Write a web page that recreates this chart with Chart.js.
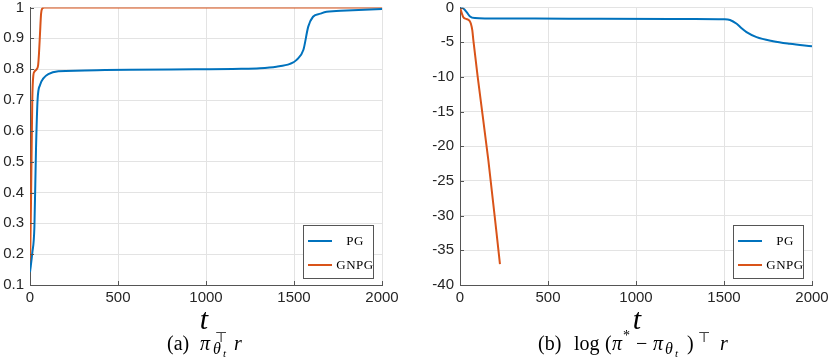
<!DOCTYPE html>
<html>
<head>
<meta charset="utf-8">
<script src="https://cdn.jsdelivr.net/npm/chart.js@4"></script>
<style>
  html, body { margin: 0; padding: 0; background: #fff; }
  body { width: 830px; height: 360px; position: relative; overflow: hidden; }
  .box { position: absolute; }
  .tvar { position: absolute; width: 60px; text-align: center; font: italic 30px "Liberation Serif", serif; line-height: 1; color: #000; }
  .cap { position: absolute; left: 0; top: 0; width: 830px; height: 360px; font-family: "Liberation Serif", serif; color: #000; }
  .cap span { position: absolute; white-space: nowrap; line-height: 1; }
  .cap .n { font-size: 20px; }
  .cap .i { font-size: 20px; font-style: italic; }
  .cap .s { font-size: 14px; }
  .cap .si { font-size: 16px; font-style: italic; }
  .cap .ss { font-size: 11px; font-style: italic; }
  .leg { position: absolute; width: 69px; height: 52px; border: 1px solid #555; background: #fff; font: 13px "Liberation Serif", serif; color: #000; }
  .leg .row { position: absolute; left: 4px; height: 14px; }
  .leg .sw { position: absolute; left: 0; top: 6px; width: 24px; height: 2px; }
  .leg .lb { position: absolute; left: 26px; width: 42px; top: -1px; text-align: center; letter-spacing: 0.5px; }
</style>
</head>
<body>
<div class="box" style="left:0;top:-10px;width:415px;height:320px"><canvas id="c1"></canvas></div>
<div class="box" style="left:430px;top:-10px;width:415px;height:320px"><canvas id="c2"></canvas></div>

<div class="leg" style="left:303px;top:225px">
  <div class="row" style="top:8px"><div class="sw" style="background:#0072BD"></div><div class="lb">PG</div></div>
  <div class="row" style="top:32px"><div class="sw" style="background:#D95319"></div><div class="lb">GNPG</div></div>
</div>
<div class="leg" style="left:733px;top:225px">
  <div class="row" style="top:8px"><div class="sw" style="background:#0072BD"></div><div class="lb">PG</div></div>
  <div class="row" style="top:32px"><div class="sw" style="background:#D95319"></div><div class="lb">GNPG</div></div>
</div>

<div class="tvar" style="left:174px;top:304px">t</div>
<div class="tvar" style="left:607px;top:304px">t</div>

<!-- captions, baseline around y=350 -->
<div class="cap">
  <span class="n"  style="left:167px;top:333px">(a)</span>
  <span class="i"  style="left:200px;top:333px">π</span>
  <span class="s"  style="left:215px;top:331px">⊤</span>
  <span class="si" style="left:213px;top:341px">θ</span>
  <span class="ss" style="left:223px;top:348px">t</span>
  <span class="i"  style="left:234px;top:333px">r</span>

  <span class="n"  style="left:538px;top:333px">(b)</span>
  <span class="n"  style="left:574px;top:333px">log</span>
  <span class="n"  style="left:605px;top:333px">(</span>
  <span class="i"  style="left:612px;top:333px">π</span>
  <span class="s"  style="left:623px;top:329px">*</span>
  <span class="n"  style="left:636px;top:333px">−</span>
  <span class="i"  style="left:653px;top:333px">π</span>
  <span class="si" style="left:665px;top:341px">θ</span>
  <span class="ss" style="left:675px;top:348px">t</span>
  <span class="n"  style="left:687px;top:333px">)</span>
  <span class="s"  style="left:698px;top:331px">⊤</span>
  <span class="i"  style="left:720px;top:333px">r</span>
</div>

<script>
// (a) expected reward
const tPG_a = [0, 13, 25, 34, 43, 57, 76, 104, 161, 426, 800, 1200, 1306, 1400, 1477, 1515, 1553, 1581, 1608, 1650, 1685, 1800, 2000];
const pg_a  = [0.142, 0.204, 0.288, 0.538, 0.70, 0.749, 0.77, 0.784, 0.793, 0.797, 0.799, 0.801, 0.803, 0.808, 0.817, 0.83, 0.862, 0.938, 0.97, 0.98, 0.986, 0.99, 0.995];
const tGN_a = [0, 6, 13, 19, 25, 38, 46, 51, 57, 63, 70, 80, 2000];
const gn_a  = [0.142, 0.38, 0.70, 0.78, 0.792, 0.80, 0.812, 0.85, 0.917, 0.98, 0.997, 1, 1];

// (b) log sub-optimality
const tPG_b = [0, 19, 38, 57, 85, 150, 426, 800, 1200, 1306, 1500, 1534, 1572, 1600, 1628, 1685, 1779, 1874, 2000];
const pg_b  = [0, -0.15, -0.67, -1.3, -1.53, -1.58, -1.6, -1.62, -1.65, -1.66, -1.7, -1.8, -2.35, -3.0, -3.55, -4.27, -4.85, -5.22, -5.6];
const tGN_b = [0, 10, 19, 35, 47, 55, 62, 70, 76, 100, 161, 208, 227];
const gn_b  = [0, -0.8, -1.4, -1.65, -1.77, -1.95, -2.35, -3.3, -4.75, -9.9, -22, -32.6, -37];

const xTicks = [0, 500, 1000, 1500, 2000];
const labels = ['PG', 'GNPG'];
const blue = '#0072BD', orange = '#D95319';

function pts(ts, vs) {
  return ts.map((t, i) => ({ x: t, y: vs[i] }));
}

// small inward tick marks like matlab
const inTicks = {
  id: 'inTicks',
  afterDraw(chart) {
    const ctx = chart.ctx, a = chart.chartArea;
    const xs = chart.scales.x, ys = chart.scales.y;
    ctx.save();
    ctx.strokeStyle = '#555';
    ctx.lineWidth = 1;
    ctx.beginPath();
    xs.ticks.forEach(t => {
      const p = Math.round(xs.getPixelForValue(t.value)) + 0.5;
      ctx.moveTo(p, a.bottom); ctx.lineTo(p, a.bottom - 4);
    });
    ys.ticks.forEach(t => {
      const p = Math.round(ys.getPixelForValue(t.value)) + 0.5;
      ctx.moveTo(a.left, p); ctx.lineTo(a.left + 4, p);
    });
    ctx.stroke();
    ctx.restore();
  }
};

function make(id, ds, ymin, ymax, ystep) {
  const font = { family: '"Liberation Sans", Arial, sans-serif', size: 15 };
  return new Chart(document.getElementById(id), {
    type: 'line',
    data: {
      datasets: ds.map(d => ({
        label: d.label,
        data: d.data,
        borderColor: d.color,
        backgroundColor: d.color,
        borderWidth: 2,
        pointRadius: 0,
        cubicInterpolationMode: 'monotone',
        fill: false
      }))
    },
    options: {
      responsive: true,
      maintainAspectRatio: false,
      animation: false,
      layout: { padding: { top: 17.5, right: 33, bottom: 0, left: 0 } },
      plugins: { legend: { display: false }, tooltip: { enabled: false } },
      scales: {
        x: {
          type: 'linear', min: 0, max: 2000,
          afterBuildTicks: s => { s.ticks = xTicks.map(v => ({ value: v })); },
          afterFit: s => { s.height = 25; },
          ticks: { font, color: '#262626', padding: 4, maxRotation: 0, callback: v => String(v) },
          grid: { color: '#e3e3e3', drawTicks: false },
          border: { color: '#555', width: 1 }
        },
        y: {
          min: ymin, max: ymax,
          afterFit: s => { s.width = 30; },
          ticks: { stepSize: ystep, font, color: '#262626', padding: 6,
                   callback: v => String(Math.round(v * 10) / 10) },
          grid: { color: '#e3e3e3', drawTicks: false },
          border: { color: '#555', width: 1 }
        }
      }
    },
    plugins: [inTicks]
  });
}

make('c1', [
  { label: labels[0], data: pts(tPG_a, pg_a), color: blue },
  { label: labels[1], data: pts(tGN_a, gn_a), color: orange }
], 0.1, 1, 0.1);

make('c2', [
  { label: labels[0], data: pts(tPG_b, pg_b), color: blue },
  { label: labels[1], data: pts(tGN_b, gn_b), color: orange }
], -40, 0, 5);
</script>
</body>
</html>
